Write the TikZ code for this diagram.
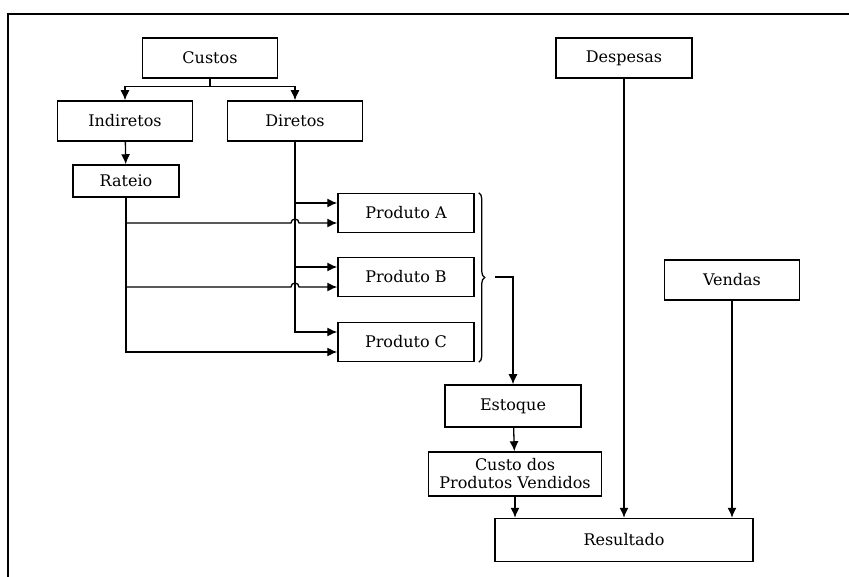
\documentclass[tikz,border=0pt]{standalone}
\usepackage{fontspec}
\setmainfont{DejaVu Serif}
\usepackage{tikz}
\usetikzlibrary{arrows.meta,decorations.pathreplacing}

\begin{document}
\begin{tikzpicture}[x=1pt,y=-1pt,
            >={Latex[length=10pt,width=9pt]},
            every path/.style={line width=1.3pt},
            caixa/.style={shape=rectangle, draw, line width=1.5pt, inner sep=0pt,
                font=\fontsize{16}{19}\selectfont, align=center}]
        \useasboundingbox (0,0) rectangle (849,577);
        \draw (8,577) -- (8,14) -- (849,14);

        % custos
        \node[caixa, minimum width=135pt, minimum height=40pt] (custos) at (210,58) {Custos};
        \node[caixa, minimum width=135pt, minimum height=40pt] (indiretos) at (125,121) {Indiretos};
        \node[caixa, minimum width=135pt, minimum height=40pt] (diretos) at (295,121) {Diretos};
        \node[caixa, minimum width=106pt, minimum height=32pt] (rateio) at (126,181) {Rateio};

        \node[caixa, minimum width=136pt, minimum height=39pt] (prodA) at (406,213) {Produto A};
        \node[caixa, minimum width=136pt, minimum height=39pt] (prodB) at (406,277) {Produto B};
        \node[caixa, minimum width=136pt, minimum height=39pt] (prodC) at (406,342) {Produto C};

        \node[caixa, minimum width=136pt, minimum height=42pt] (estoque) at (513,406) {Estoque};
        \node[caixa, minimum width=173pt, minimum height=44pt] (cpv) at (515,474) {Custo dos\\[-1pt]Produtos Vendidos};
        \node[caixa, minimum width=258pt, minimum height=43pt] (resultado) at (624,540) {Resultado};

        % despesas e vendas
        \node[caixa, minimum width=136pt, minimum height=40pt] (despesas) at (624,58) {Despesas};
        \node[caixa, minimum width=135pt, minimum height=40pt] (vendas) at (732,280) {Vendas};

        \draw[->] (custos.south) -- ++(0,8) -| (indiretos.north);
        \draw[->] (custos.south) -- ++(0,8) -| (diretos.north);
        \draw[->] (indiretos) -- (rateio);

        % diretos para produtos
        \draw[->] (diretos.south) |- ([yshift=10pt]prodC.west);
        \draw[->] ([yshift=10pt]prodA.west -| diretos.south) -- ([yshift=10pt]prodA.west);
        \draw[->] ([yshift=10pt]prodB.west -| diretos.south) -- ([yshift=10pt]prodB.west);

        % rateio para produtos
        \draw[->] (rateio.south) |- ([yshift=-10pt]prodC.west);
        \draw[->] ([yshift=-10pt]prodA.west -| rateio.south) -- ([yshift=-10pt,xshift=-4pt]prodA.west -| diretos.south)
            arc[start angle=180, end angle=0, radius=4pt] -- ([yshift=-10pt]prodA.west);
        \draw[->] ([yshift=-10pt]prodB.west -| rateio.south) -- ([yshift=-10pt,xshift=-4pt]prodB.west -| diretos.south)
            arc[start angle=180, end angle=0, radius=4pt] -- ([yshift=-10pt]prodB.west);

        \draw[decorate, decoration={brace, amplitude=6pt}] ([xshift=4pt]prodA.north east) -- ([xshift=4pt]prodC.south east);
        \coordinate (chave) at ([xshift=20pt]prodB.east);
        \draw[->] (chave) -| (estoque.north);

        \draw[->] (estoque) -- (cpv);
        \draw[->] (cpv.south) -- (cpv.south |- resultado.north);
        \draw[->] (despesas) -- (despesas |- resultado.north);
        \draw[->] (vendas) -- (vendas |- resultado.north);
    \end{tikzpicture}
\end{document}
